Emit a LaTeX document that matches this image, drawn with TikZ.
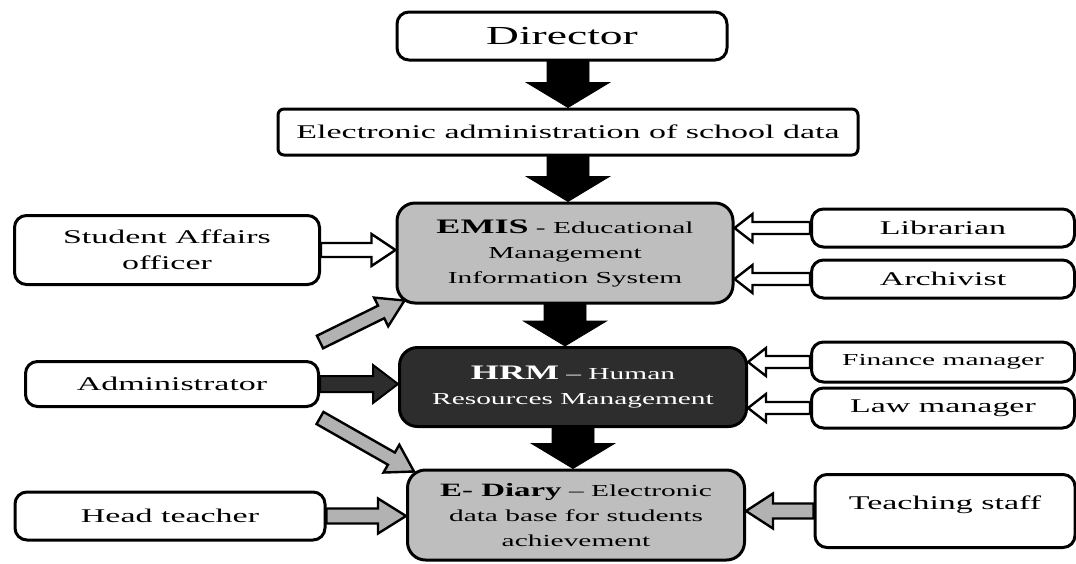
\documentclass[tikz,border=0pt]{standalone}
\usepackage{fontspec}
\setmainfont{Liberation Serif}
\usepackage{graphicx}
\usetikzlibrary{calc}

\definecolor{sysgray}{HTML}{BEBEBE}
\definecolor{hrmdark}{HTML}{2D2D2D}
\definecolor{arrowgray}{HTML}{B2B2B2}

% wide lettering used in all boxes
\newcommand\widetext[1]{\scalebox{1.75}[1]{#1}}
% block arrow: [style]{from}{to}{half shaft}{half head}{head length}
\newcommand\fatarrow[6][]{%
  \coordinate (fa-base) at ($(#3)!#6!(#2)$);
  \draw[#1] ($(#2)!#4!90:(#3)$) -- ($(fa-base)!#4!90:(#3)$)
    -- ($(fa-base)!#5!90:(#3)$) -- (#3)
    -- ($(fa-base)!#5!270:(#3)$) -- ($(fa-base)!#4!270:(#3)$)
    -- ($(#2)!#4!270:(#3)$) -- cycle;}

\begin{document}
\begin{tikzpicture}[x=0.5pt, y=-0.5pt,
  box/.style={draw, line width=1.5pt, rounded corners=6pt, fill=white, align=center, inner sep=1pt, font=\fontsize{9.7}{13}\selectfont},
  sidebox/.style={box, minimum width=131.5pt, minimum height=19pt},
  sysbox/.style={box, rounded corners=9pt, fill=sysgray, font=\fontsize{8.4}{12.5}\selectfont},
  mainarrow/.style={fill=black},
  hollowarrow/.style={draw, line width=1.2pt, fill=white},
  grayarrow/.style={draw, line width=1.2pt, fill=arrowgray},
  darkarrow/.style={draw, line width=1pt, fill=hrmdark}]

\useasboundingbox (0,0) rectangle (1076,563);

% centre column
\node[box, minimum width=165pt, minimum height=24pt, font=\fontsize{13}{15}\selectfont] (dir) at (562,36) {\widetext{Director}};
\node[box, rounded corners=3pt, minimum width=290pt, minimum height=23pt] (ead) at (568,132) {\widetext{Electronic administration of school data}};
\node[sysbox, minimum width=168pt, minimum height=50pt] (emis) at (565,253)
  {\widetext{{\fontsize{10.3}{12}\selectfont\bfseries EMIS} - Educational}\\ \widetext{Management}\\ \widetext{Information System}};
\node[sysbox, fill=hrmdark, text=white, minimum width=173.5pt, minimum height=39.5pt] (hrm) at (573,387)
  {\widetext{{\fontsize{10.3}{12}\selectfont\bfseries HRM} -- Human}\\ \widetext{Resources Management}};
\node[sysbox, minimum width=168.5pt, minimum height=45pt] (diary) at (576,515)
  {\widetext{{\fontsize{9.4}{12}\selectfont\bfseries E- Diary} -- Electronic}\\ \widetext{data base for students}\\ \widetext{achievement}};

% left side
\node[box, minimum width=152.5pt, minimum height=34.5pt] (sao) at (167,250) {\widetext{Student Affairs}\\ \widetext{officer}};
\node[box, minimum width=146.5pt, minimum height=22.5pt] (admin) at (172,384) {\widetext{Administrator}};
\node[box, minimum width=155pt, minimum height=24pt] (head) at (170,516) {\widetext{Head teacher}};

% right side
\node[sidebox] (lib) at (943,228) {\widetext{Librarian}};
\node[sidebox] (arch) at (943,279) {\widetext{Archivist}};
\node[sidebox, minimum height=20pt, font=\fontsize{8.4}{12}\selectfont] (fin) at (943,362) {\widetext{Finance manager}};
\node[sidebox, minimum height=20pt] (law) at (943,408) {\widetext{Law manager}};
\node[box, minimum width=130pt, minimum height=36.5pt] (staff) at (945,511) {\widetext{Teaching staff}\\[-9pt] \strut};

% loose ends of the slanted arrows
\coordinate (upfrom) at (320,342);
\coordinate (upto) at ($(emis.south west)+(9,-4)$);
\coordinate (downfrom) at (320,418);
\coordinate (downto) at ($(diary.north west)+(8,3)$);

% down the middle
\fatarrow[mainarrow]{ead.north |- dir.south}{ead.north}{10.5pt}{20.75pt}{12.5pt}
\fatarrow[mainarrow]{ead.south}{ead.south |- emis.north}{10.5pt}{20.75pt}{12.5pt}
\fatarrow[mainarrow]{emis.south}{emis.south |- hrm.north}{10.5pt}{20.75pt}{12.5pt}
\fatarrow[mainarrow]{hrm.south}{hrm.south |- diary.north}{10.5pt}{20.75pt}{12.5pt}

% from the left
\fatarrow[hollowarrow]{sao.east}{sao.east -| emis.west}{3.5pt}{8pt}{12pt}
\fatarrow[grayarrow]{upfrom}{upto}{3.5pt}{8pt}{13pt}
\fatarrow[darkarrow]{admin.east}{admin.east -| hrm.west}{4pt}{9.5pt}{12.5pt}
\fatarrow[grayarrow]{downfrom}{downto}{3.5pt}{8pt}{13pt}
\fatarrow[grayarrow]{head.east}{head.east -| diary.west}{3.75pt}{8.75pt}{14pt}

% from the right
\fatarrow[hollowarrow]{lib.west}{lib.west -| emis.east}{3pt}{7pt}{9pt}
\fatarrow[hollowarrow]{arch.west}{arch.west -| emis.east}{3pt}{7pt}{9pt}
\fatarrow[hollowarrow]{fin.west}{fin.west -| hrm.east}{3pt}{7pt}{9pt}
\fatarrow[hollowarrow]{law.west}{law.west -| hrm.east}{3pt}{7pt}{9pt}
\fatarrow[grayarrow]{staff.west}{staff.west -| diary.east}{3.75pt}{8.75pt}{13.5pt}
\end{tikzpicture}
\end{document}
